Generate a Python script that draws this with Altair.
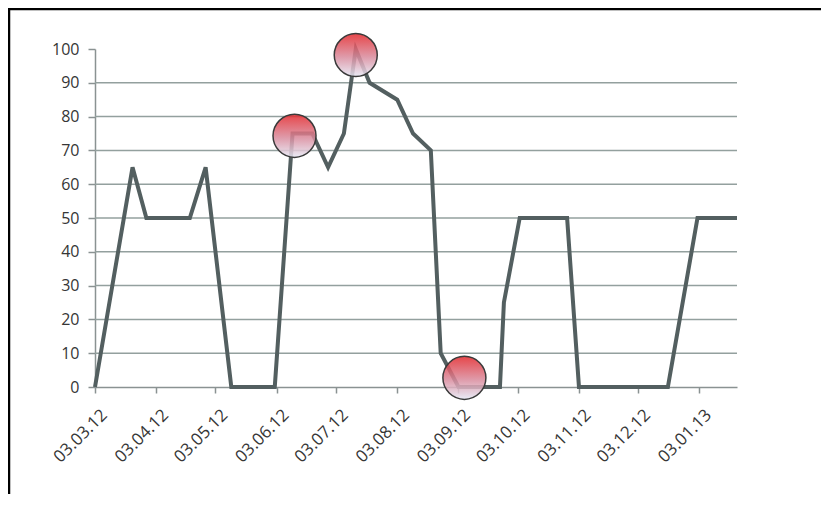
import altair as alt
import pandas as pd

# ---- data ----
line_dates = ["2012-03-03", "2012-03-22", "2012-03-29", "2012-04-20", "2012-04-28",
              "2012-05-11", "2012-06-02", "2012-06-11", "2012-06-21", "2012-06-29",
              "2012-07-07", "2012-07-13", "2012-07-20", "2012-08-03", "2012-08-11",
              "2012-08-20", "2012-08-25", "2012-09-03", "2012-09-24", "2012-09-26",
              "2012-10-04", "2012-10-28", "2012-11-03", "2012-12-18", "2013-01-02",
              "2013-01-22"]
line_values = [0, 65, 50, 50, 65,
               0, 0, 75, 75, 65,
               75, 100, 90, 85, 75,
               70, 10, 0, 0, 25,
               50, 50, 0, 0, 50,
               50]

highlight_dates = ["2012-06-12", "2012-07-13", "2012-09-06"]
highlight_values = [74.3, 98.2, 2.7]

tick_dates = [(2012, 3, 3), (2012, 4, 3), (2012, 5, 3), (2012, 6, 3), (2012, 7, 3),
              (2012, 8, 3), (2012, 9, 3), (2012, 10, 3), (2012, 11, 3), (2012, 12, 3),
              (2013, 1, 3)]
x_domain = [(2012, 3, 3), (2013, 1, 22)]
y_ticks = [0, 10, 20, 30, 40, 50, 60, 70, 80, 90, 100]
grid_values = [10, 20, 30, 40, 50, 60, 70, 80, 90]

# ---- tables ----
line_df = pd.DataFrame({"date": line_dates, "value": line_values})
hl_df = pd.DataFrame({"date": highlight_dates, "value": highlight_values})
grid_df = pd.DataFrame({"v": grid_values})
one_df = pd.DataFrame({"a": [0]})

def dt(t):
    return alt.DateTime(year=t[0], month=t[1], date=t[2], utc=True)

FONT = "Open Sans"
LABEL = "#363636"
AXIS = "#8a9292"

x_scale = alt.Scale(type="utc", domain=[dt(d) for d in x_domain], nice=False)
y_scale = alt.Scale(domain=[0, 100], nice=False, zero=True)

x_axis = alt.Axis(values=[dt(d) for d in tick_dates], format="%d.%m.%y", title=None,
                  labelAngle=-45, labelAlign="right", labelBaseline="middle",
                  labelFont=FONT, labelFontSize=17, labelColor=LABEL,
                  labelPadding=19, labelOffset=9,
                  domainColor=AXIS, domainWidth=1.5, tickColor=AXIS, tickSize=6,
                  tickWidth=1.5, grid=False, labelOverlap=False)
y_axis = alt.Axis(values=y_ticks, title=None, labelFont=FONT, labelFontSize=16,
                  labelColor=LABEL, labelPadding=9, domainColor=AXIS, domainWidth=1.5,
                  tickColor=AXIS, tickSize=7, tickWidth=1.5, grid=False)

grid = alt.Chart(grid_df).mark_rule(color="#93a09e", strokeWidth=1.5).encode(
    y=alt.Y("v:Q", scale=y_scale, axis=y_axis)
)

line = alt.Chart(line_df).mark_line(color="#535f60", strokeWidth=4).encode(
    x=alt.X("date:T", scale=x_scale, axis=x_axis),
    y=alt.Y("value:Q", scale=y_scale, axis=y_axis),
)

gradient = alt.LinearGradient(
    gradient="linear",
    stops=[alt.GradientStop(color="#e2262a", offset=0),
           alt.GradientStop(color="#d98b9d", offset=0.55),
           alt.GradientStop(color="#e6e8f5", offset=1)],
    x1=0, x2=0, y1=0, y2=1,
)

circles = alt.Chart(hl_df).mark_point(
    shape="circle", filled=False, fill=gradient, fillOpacity=0.85,
    stroke="#3a3a3a", strokeWidth=1.5, size=1850, opacity=1,
).encode(
    x=alt.X("date:T", scale=x_scale, axis=x_axis),
    y=alt.Y("value:Q", scale=y_scale, axis=y_axis),
)

border_left = alt.Chart(one_df).mark_rule(color="#000000", strokeWidth=2.5).encode(
    x=alt.value(-86), y=alt.value(-41), y2=alt.value(446)
)
border_top = alt.Chart(one_df).mark_rule(color="#000000", strokeWidth=2.5).encode(
    x=alt.value(-87), x2=alt.value(730), y=alt.value(-40)
)

chart = alt.layer(grid, line, circles, border_left, border_top).properties(
    width=642, height=338,
    autosize=alt.AutoSizeParams(type="none"),
    padding={"left": 87, "top": 41, "right": 84, "bottom": 107},
    background="#ffffff",
).configure_view(stroke=None)

chart.save("out.html", embed_options={"renderer": "svg", "actions": False})
